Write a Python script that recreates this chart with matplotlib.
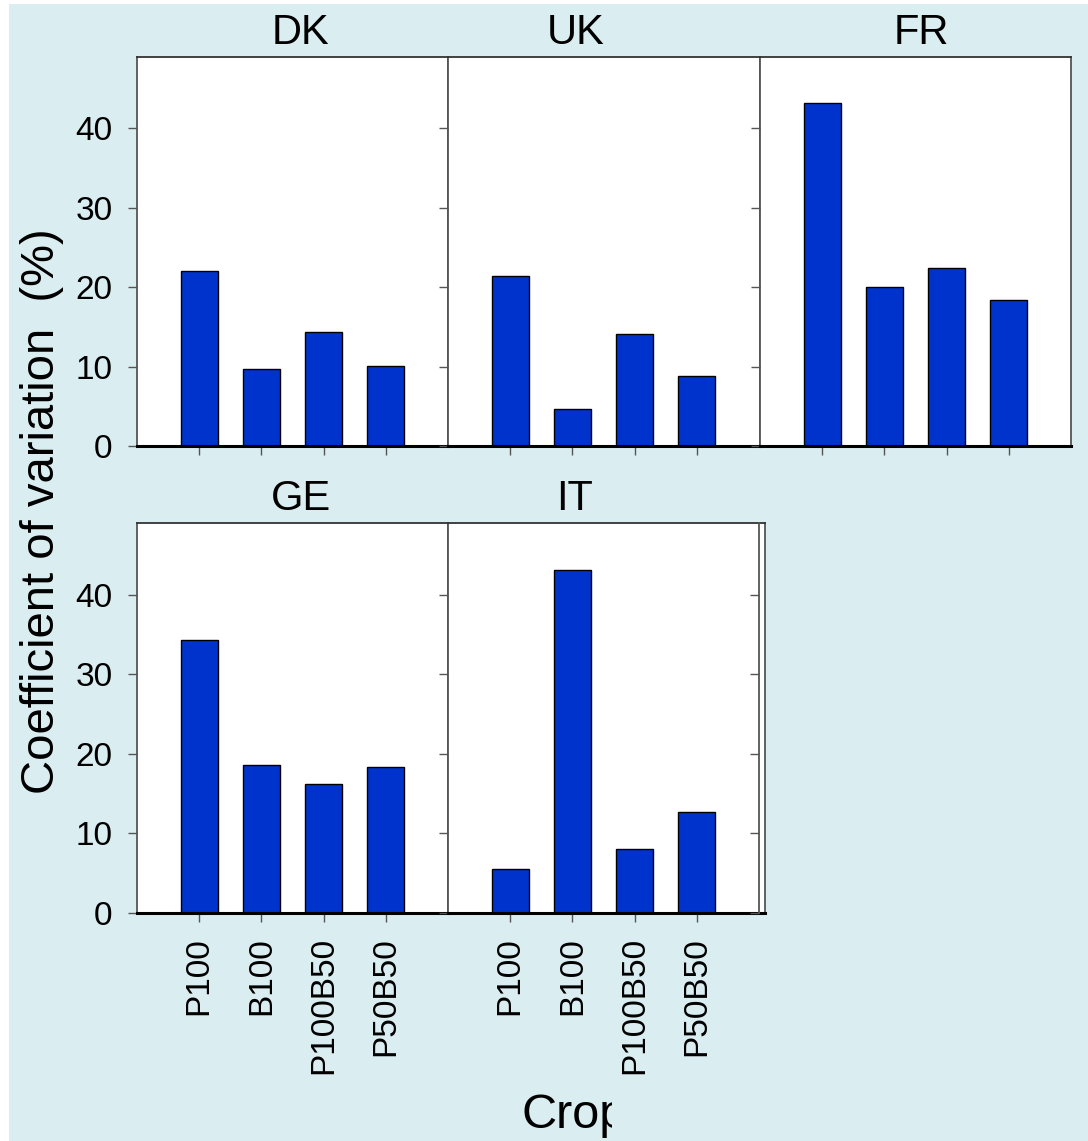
import matplotlib
matplotlib.use("Agg")
import matplotlib.pyplot as plt
from matplotlib.patches import Rectangle
from matplotlib.transforms import Bbox, TransformedBbox

plt.rcParams['font.family'] = ['Liberation Sans', 'DejaVu Sans']

# data
countries = ["DK", "UK", "FR", "GE", "IT"]
crops = ["P100", "B100", "P100B50", "P50B50"]
dk = [22.0, 9.7, 14.4, 10.1]
uk = [21.4, 4.7, 14.1, 8.8]
fr = [43.2, 20.0, 22.4, 18.4]
ge = [34.3, 18.6, 16.2, 18.4]
it = [5.5, 43.1, 8.1, 12.7]
values = [dk, uk, fr, ge, it]
yticks = [0, 10, 20, 30, 40]

W, H = 1088, 1141
BG = "#daedf0"
BAR = "#0033cc"
SPINE = "#555555"

fig = plt.figure(figsize=(W / 100, H / 100), dpi=100)
fig.patches.append(Rectangle((9 / W, 0), 1 - 9 / W, 1 - 4 / H,
                             transform=fig.transFigure, facecolor=BG,
                             edgecolor="none", zorder=-10))

def px_axes(left, top, right, bottom):
    return fig.add_axes([left / W, 1 - bottom / H, (right - left) / W, (bottom - top) / H])

# panel boxes in pixels: left, top, right, bottom
boxes = [(137, 57, 448, 446), (448, 57, 760, 446), (760, 57, 1071, 446),
         (137, 523, 448, 913), (448, 523, 765, 913)]
title_x = [0.527, 0.41, 0.518, 0.527, 0.40]

x = list(range(len(crops)))
for i, (name, vals, box) in enumerate(zip(countries, values, boxes)):
    ax = px_axes(*box)
    ax.set_facecolor("white")
    ax.bar(x, vals, width=0.6, color=BAR, edgecolor="black", linewidth=1, zorder=2)
    span = (box[2] - box[0]) / 62.2
    ax.set_xlim(-1, -1 + span)
    ax.set_ylim(0, 49)
    ax.set_yticks(yticks)
    ax.set_xticks(x)
    for s in ["left", "right", "top"]:
        ax.spines[s].set_color(SPINE)
        ax.spines[s].set_linewidth(1.3)
    ax.spines["top"].set_color("#333333")
    ax.spines["bottom"].set_color("black")
    ax.spines["bottom"].set_linewidth(2.2)
    ax.tick_params(axis="both", direction="out", length=6.5, width=1,
                   color=SPINE, labelsize=24, pad=11)
    if i in (0, 3):
        ax.set_yticklabels([str(t) for t in yticks])
    else:
        ax.set_yticklabels([])
    if i >= 3:
        ax.set_xticklabels(crops, rotation=90, fontsize=24)
        ax.tick_params(axis="x", pad=11)
    else:
        ax.set_xticklabels([])
    ax.set_title(name, fontsize=30, x=title_x[i], pad=9)

# left spine of the empty sixth panel
ax6 = px_axes(759, 523, 759.5, 913)
ax6.set_ylim(0, 49)
ax6.set_yticks(yticks)
ax6.set_yticklabels([])
ax6.set_xticks([])
ax6.patch.set_visible(False)
for s in ["right", "top", "bottom"]:
    ax6.spines[s].set_visible(False)
ax6.spines["left"].set_color(SPINE)
ax6.spines["left"].set_linewidth(1.3)
ax6.tick_params(axis="y", direction="out", length=6.5, width=1, color=SPINE)

fig.text(42 / W, 1 - 511 / H, "Coefficient of variation  (%)", rotation=90,
         fontsize=34, ha="center", va="center")
crop = fig.text(574 / W, 1 - 1115 / H, "Crop", fontsize=35, ha="center", va="center")
crop.set_clip_box(TransformedBbox(Bbox([[0, 0], [612 / W, 1]]), fig.transFigure))
crop.set_clip_on(True)

fig.savefig("out.png", dpi=100, facecolor="white")
